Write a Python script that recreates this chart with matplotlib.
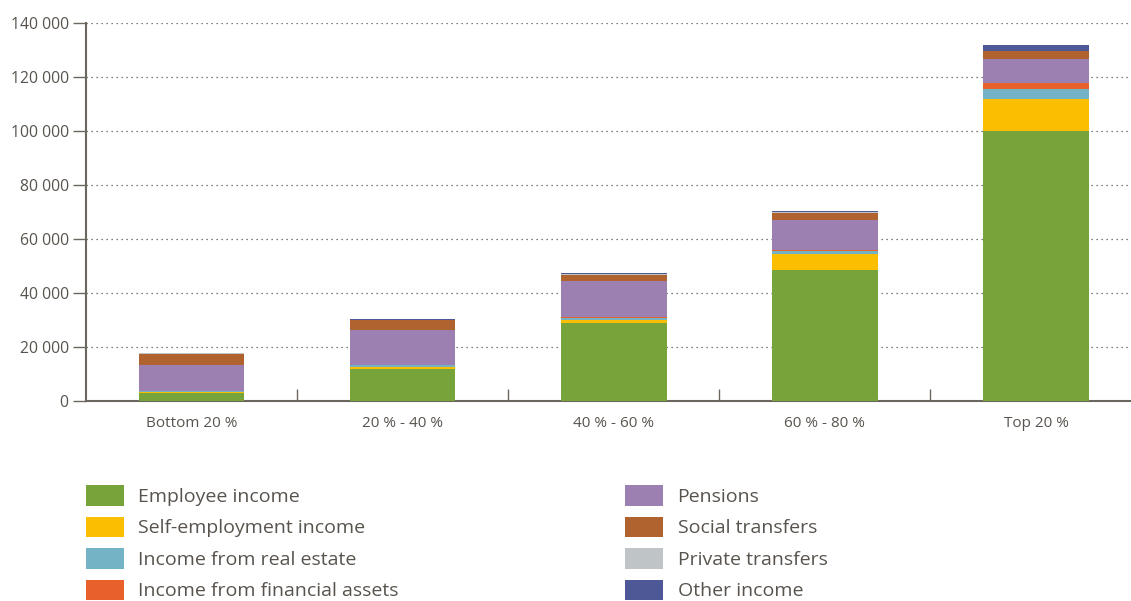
import matplotlib.pyplot as plt
import numpy as np
from matplotlib.patches import Patch
from matplotlib.ticker import FuncFormatter

# Income by quintile, stacked by source
categories = ["Bottom 20 %", "20 % - 40 %", "40 % - 60 %", "60 % - 80 %", "Top 20 %"]
employee = [2850, 11850, 28900, 48500, 100000]
self_employment = [550, 740, 1100, 5900, 11850]
real_estate = [150, 740, 740, 1000, 3700]
financial = [50, 100, 250, 480, 2200]
pensions = [9600, 12950, 13450, 11100, 8900]
social = [4300, 3700, 2200, 2600, 2950]
private = [200, 0, 370, 370, 0]
other = [0, 300, 370, 370, 2330]

series_names = [
    "Employee income",
    "Self-employment income",
    "Income from real estate",
    "Income from financial assets",
    "Pensions",
    "Social transfers",
    "Private transfers",
    "Other income",
]
colors = ["#76a33a", "#fbbe00", "#74b3c6", "#e9612a",
          "#9c80b1", "#b0632f", "#bfc5c7", "#4e5897"]

text_color = "#58534d"
axis_color = "#6b665e"

plt.rcParams["font.family"] = ["Open Sans", "DejaVu Sans"]

fig = plt.figure(figsize=(11.31, 6.01), dpi=100)
ax = fig.add_axes([86 / 1131, 200 / 601, 1 - 86 / 1131, 378 / 601])

x = np.arange(len(categories))
bottom = np.zeros(len(categories))
series = [employee, self_employment, real_estate, financial,
          pensions, social, private, other]
for vals, col in zip(series, colors):
    ax.bar(x, vals, width=0.5, bottom=bottom, color=col, linewidth=0, zorder=3)
    bottom += np.array(vals)

ax.set_xlim(-0.5, 4.45)
ax.set_ylim(0, 140000)

# y axis
ax.set_yticks(np.arange(0, 140001, 20000))
ax.yaxis.set_major_formatter(FuncFormatter(lambda v, p: f"{int(v):,}".replace(",", " ")))
ax.tick_params(axis="y", length=9.5, width=1, color=axis_color, pad=3,
               labelsize=11.3, labelcolor=text_color)
ax.grid(axis="y", linestyle=(0, (1, 3)), color="#555555", linewidth=0.9, zorder=0)

# x axis: boundary ticks point up, labels at the centres
ax.set_xticks(x[:-1] + 0.5)
ax.set_xticklabels([])
ax.tick_params(axis="x", which="major", direction="in", length=9, width=1, color=axis_color)
ax.set_xticks(x, minor=True)
ax.set_xticklabels(categories, minor=True)
ax.tick_params(axis="x", which="minor", length=0, pad=11, labelsize=11, labelcolor=text_color)

for side in ("top", "right"):
    ax.spines[side].set_visible(False)
ax.spines["left"].set_color(axis_color)
ax.spines["left"].set_linewidth(1.5)
ax.spines["bottom"].set_color(axis_color)
ax.spines["bottom"].set_linewidth(1.5)

# legend in two columns
handles = [Patch(facecolor=c, edgecolor="none") for c in colors]
leg_kw = dict(frameon=False, loc="upper left", fontsize=14, handlelength=1.95,
              handleheight=1.25, handletextpad=0.75, labelspacing=0.55,
              borderpad=0, borderaxespad=0, labelcolor=text_color)
fig.legend(handles[:4], series_names[:4], bbox_to_anchor=(86 / 1131, 1 - 485 / 601), **leg_kw)
fig.legend(handles[4:], series_names[4:], bbox_to_anchor=(625 / 1131, 1 - 485 / 601), **leg_kw)

fig.savefig("out.png", dpi=100)
